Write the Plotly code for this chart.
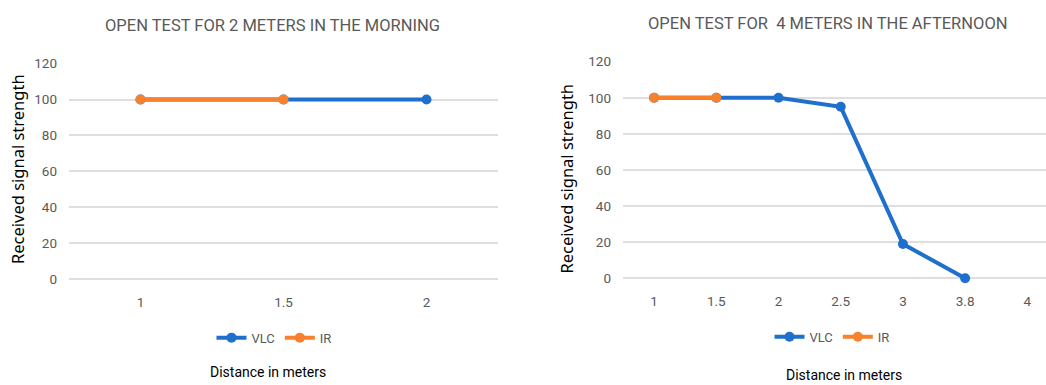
import plotly.graph_objects as go

# ---- data ----
left_categories = ["1", "1.5", "2"]
left_vlc = [100, 100, 100]
left_ir = [100, 100, None]

right_categories = ["1", "1.5", "2", "2.5", "3", "3.8", "4"]
right_vlc = [100, 100, 100, 95, 19, 0, None]
right_ir = [100, 100, None, None, None, None, None]

left_title = "OPEN TEST FOR 2 METERS IN THE MORNING"
right_title = "OPEN TEST FOR  4 METERS IN THE AFTERNOON"
y_title = "Received signal strength"
x_title = "Distance in meters"
y_ticks = [0, 20, 40, 60, 80, 100, 120]

W, H = 1046, 385
BLUE = "#1F6FCC"
ORANGE = "#F7812C"
GRID = "#DEDEDE"
TXT = "#595959"
NARROW = "Roboto, sans-serif"
WIDE = "Noto Sans, Open Sans, sans-serif"


def px(x):
    return x / W


def py(y):
    return (H - y) / H


fig = go.Figure()

line_kw = dict(mode="lines+markers", cliponaxis=False)

fig.add_trace(go.Scatter(x=left_categories, y=left_vlc, name="VLC", xaxis="x", yaxis="y",
                         line=dict(color=BLUE, width=4), marker=dict(size=10, color=BLUE),
                         legend="legend", **line_kw))
fig.add_trace(go.Scatter(x=left_categories, y=left_ir, name="IR", xaxis="x", yaxis="y",
                         line=dict(color=ORANGE, width=4), marker=dict(size=10, color=ORANGE),
                         legend="legend", **line_kw))
fig.add_trace(go.Scatter(x=right_categories, y=right_vlc, name="VLC", xaxis="x2", yaxis="y2",
                         line=dict(color=BLUE, width=4), marker=dict(size=10, color=BLUE),
                         legend="legend2", **line_kw))
fig.add_trace(go.Scatter(x=right_categories, y=right_ir, name="IR", xaxis="x2", yaxis="y2",
                         line=dict(color=ORANGE, width=4), marker=dict(size=10, color=ORANGE),
                         legend="legend2", **line_kw))

tickfont = dict(family=NARROW, size=13.5, color=TXT)

xcommon = dict(type="category", showgrid=False, zeroline=False, showline=False, ticks="",
               tickfont=tickfont, ticklabelstandoff=13, fixedrange=True)
ycommon = dict(range=[0, 120], tickvals=y_ticks, showgrid=True, gridcolor=GRID, gridwidth=1.5,
               zeroline=True, zerolinecolor=GRID, zerolinewidth=1.5, showline=False, ticks="",
               tickfont=tickfont, ticklabelstandoff=11, fixedrange=True)

fig.update_layout(
    width=W, height=H,
    margin=dict(l=0, r=0, t=0, b=0),
    paper_bgcolor="white", plot_bgcolor="white",
    xaxis=dict(domain=[px(69), px(498)], anchor="y", categoryorder="array",
               categoryarray=left_categories, range=[-0.5, 2.5], **xcommon),
    yaxis=dict(domain=[py(283), py(58)], anchor="x", **ycommon),
    xaxis2=dict(domain=[px(623), 1.0], anchor="y2", categoryorder="array",
                categoryarray=right_categories, range=[-0.5, 6.3], **xcommon),
    yaxis2=dict(domain=[py(282), py(56)], anchor="x2", **ycommon),
    legend=dict(orientation="h", x=px(274), y=py(344), xanchor="center", yanchor="middle",
                font=dict(family=NARROW, size=13, color=TXT), itemwidth=30,
                bgcolor="rgba(0,0,0,0)", tracegroupgap=0),
    legend2=dict(orientation="h", x=px(832), y=py(343), xanchor="center", yanchor="middle",
                 font=dict(family=NARROW, size=13, color=TXT), itemwidth=30,
                 bgcolor="rgba(0,0,0,0)", tracegroupgap=0),
    showlegend=True,
)

annots = [
    dict(text=left_title, x=px(272), y=py(18), font=dict(family=NARROW, size=16.5, color=TXT)),
    dict(text=right_title, x=px(828), y=py(16), font=dict(family=NARROW, size=16.5, color=TXT)),
    dict(text=y_title, x=px(17), y=py(168), textangle=-90,
         font=dict(family=WIDE, size=16.5, color="black")),
    dict(text=y_title, x=px(567), y=py(178), textangle=-90,
         font=dict(family=WIDE, size=16.5, color="black")),
    dict(text=x_title, x=px(268), y=py(380), font=dict(family=NARROW, size=14, color="black")),
    dict(text=x_title, x=px(844), y=py(383), font=dict(family=NARROW, size=14, color="black")),
]
for a in annots:
    a.update(xref="paper", yref="paper", showarrow=False, xanchor="center", yanchor="middle")
fig.update_layout(annotations=annots)

fig.write_html("out.html")
